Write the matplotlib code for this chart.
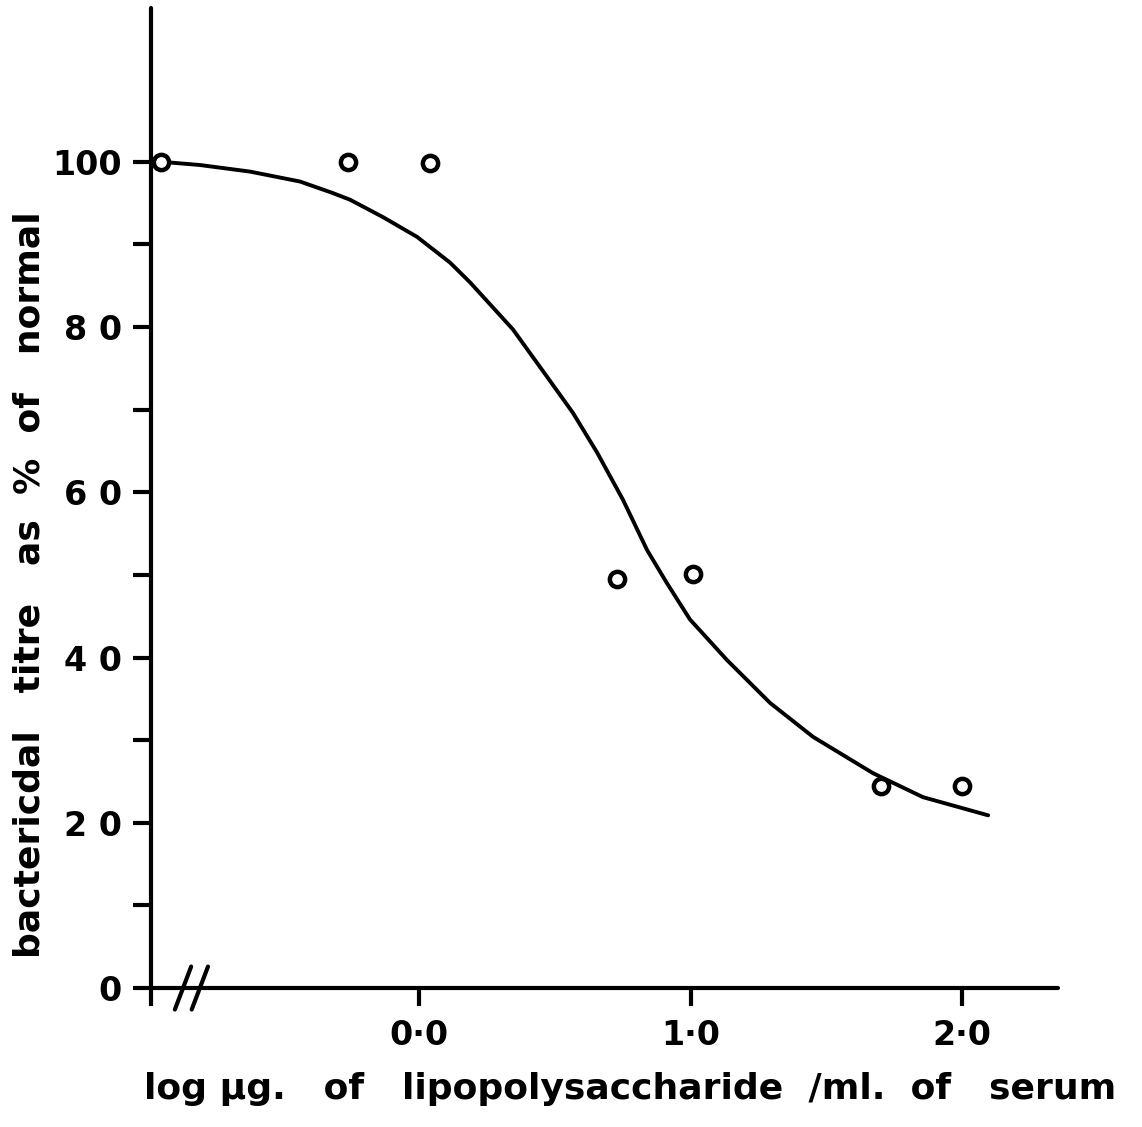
import matplotlib
matplotlib.use("Agg")
import matplotlib.pyplot as plt

# ---- data ----
point_x = [-0.95, -0.26, 0.04, 0.73, 1.01, 1.70, 2.00]
point_y = [100.0, 100.0, 99.9, 49.5, 50.1, 24.5, 24.4]

curve_x = [-0.950, -0.917, -0.807, -0.622, -0.438, -0.317, -0.254, -0.133,
           -0.007, 0.114, 0.188, 0.346, 0.471, 0.567, 0.656, 0.751, 0.840,
           0.913, 0.998, 1.134, 1.293, 1.451, 1.672, 1.856, 2.096]
curve_y = [100.0, 99.9, 99.6, 98.8, 97.6, 96.2, 95.4, 93.3,
           90.9, 87.8, 85.4, 79.7, 74.0, 69.6, 64.8, 59.1, 53.0,
           49.0, 44.6, 39.7, 34.5, 30.4, 26.0, 23.1, 20.9]

x_ticks = [0.0, 1.0, 2.0]
x_tick_labels = ["0·0", "1·0", "2·0"]
y_major = [0, 20, 40, 60, 80, 100]
y_major_labels = ["0", "2 0", "4 0", "6 0", "8 0", "100"]
y_minor = [10, 30, 50, 70, 90]

xlabel = "log µg.   of   lipopolysaccharide  /ml.  of   serum"
ylabel = "bactericdal   titre   as  %  of   normal"

XMIN, XMAX = -0.987, 2.353
YMIN, YMAX = 0.0, 118.6

FONT = dict(family="DejaVu Sans", weight="bold")

fig = plt.figure(figsize=(11.42, 11.27), dpi=100)
ax = fig.add_axes([0.1322, 0.1233, 0.7942, 0.8696])

ax.plot(curve_x, curve_y, color="black", lw=2.8, solid_capstyle="round",
        solid_joinstyle="round", zorder=3)
ax.plot(point_x, point_y, linestyle="none", marker="o", markersize=11,
        markerfacecolor="white", markeredgecolor="black", markeredgewidth=3.2,
        zorder=4, clip_on=False)

ax.set_xlim(XMIN, XMAX)
ax.set_ylim(YMIN, YMAX)

for s in ["top", "right"]:
    ax.spines[s].set_visible(False)
for s in ["left", "bottom"]:
    ax.spines[s].set_linewidth(3.0)
    ax.spines[s].set_color("black")
    ax.spines[s].set_capstyle("round")

ax.set_xticks([XMIN] + x_ticks)
ax.set_xticklabels([""] + x_tick_labels, fontsize=24, **FONT)
ax.set_yticks(y_major)
ax.set_yticklabels(y_major_labels, fontsize=24, **FONT)
ax.set_yticks(y_minor, minor=True)
ax.tick_params(axis="both", which="both", direction="out", length=13,
               width=3.0, color="black")
ax.tick_params(axis="x", pad=9)
ax.tick_params(axis="y", pad=8)

# axis break marks "//"
for bx in (-0.869, -0.807):
    ax.plot([bx - 0.03, bx + 0.03], [-2.6, 2.6], color="black", lw=3.0,
            solid_capstyle="round", clip_on=False, zorder=5)

fig.text(0.026, 0.481, ylabel, rotation=90, ha="center", va="center",
         fontsize=26, **FONT)
fig.text(0.552, 0.034, xlabel, ha="center", va="center", fontsize=26, **FONT)

fig.savefig("out.png", dpi=100, facecolor="white")
